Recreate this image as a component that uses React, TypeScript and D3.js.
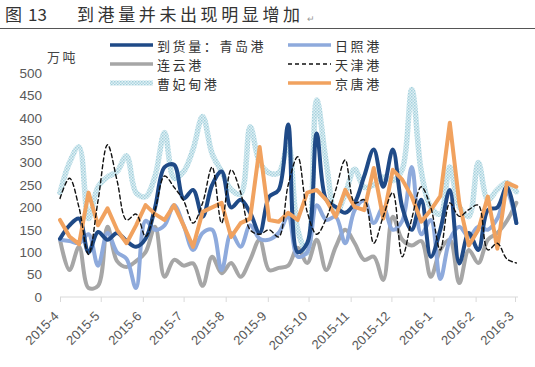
import { useEffect, useRef } from "react";
import * as d3 from "d3";

// weekly observations
const DATES = [
  "2015-04-01", "2015-04-08", "2015-04-15", "2015-04-22", "2015-04-29",
  "2015-05-06", "2015-05-13", "2015-05-20", "2015-05-27",
  "2015-06-03", "2015-06-10", "2015-06-17", "2015-06-24",
  "2015-07-01", "2015-07-08", "2015-07-15", "2015-07-22", "2015-07-29",
  "2015-08-05", "2015-08-12", "2015-08-19", "2015-08-26",
  "2015-09-02", "2015-09-09", "2015-09-16", "2015-09-23", "2015-09-30",
  "2015-10-07", "2015-10-14", "2015-10-21", "2015-10-28",
  "2015-11-04", "2015-11-11", "2015-11-18", "2015-11-25",
  "2015-12-02", "2015-12-09", "2015-12-16", "2015-12-23", "2015-12-30",
  "2016-01-06", "2016-01-13", "2016-01-20", "2016-01-27",
  "2016-02-03", "2016-02-10", "2016-02-17", "2016-02-24",
  "2016-03-02",
];

const MONTH_TICKS = [
  "2015-04-01", "2015-05-01", "2015-06-01", "2015-07-01", "2015-08-01", "2015-09-01",
  "2015-10-01", "2015-11-01", "2015-12-01", "2016-01-01", "2016-02-01", "2016-03-01",
];
const MONTH_LABELS = [
  "2015-4", "2015-5", "2015-6", "2015-7", "2015-8", "2015-9",
  "2015-10", "2015-11", "2015-12", "2016-1", "2016-2", "2016-3",
];
const Y_TICKS = [0, 50, 100, 150, 200, 250, 300, 350, 400, 450, 500];

const QINGDAO = [
  130, 160, 175, 100, 145, 128, 143, 125, 112, 130, 200, 290, 295, 220, 239, 179, 250,
  280, 200, 217, 188, 143, 224, 239, 385, 100, 120, 365, 217, 201, 188, 210, 270,
  329, 246, 329, 200, 150, 217, 90, 150, 239, 75, 143, 105, 194, 200, 246, 165,
];
const RIZHAO = [
  128, 125, 120, 140, 70, 143, 100, 85, 20, 170, 150, 160, 205, 160, 105, 143, 150,
  60, 143, 112, 160, 130, 128, 143, 179, 90, 100, 205, 172, 179, 120, 194, 215,
  165, 200, 150, 170, 290, 140, 172, 40, 128, 157, 134, 157, 150, 175, 235, 165,
];
const LIANYUN = [
  128, 60, 112, 20, 25, 157, 80, 67, 80, 100, 157, 45, 83, 70, 75, 25, 90,
  53, 76, 45, 83, 128, 60, 65, 70, 110, 76, 128, 60, 112, 150, 120, 83,
  90, 38, 179, 128, 115, 125, 45, 105, 128, 31, 105, 76, 128, 143, 170, 210,
];
const TIANJIN = [
  220, 265, 200, 95, 215, 340, 260, 172, 185, 135, 195, 270, 245, 215, 165, 210, 290,
  165, 284, 233, 150, 140, 150, 134, 250, 313, 190, 140, 175, 239, 306, 210, 217,
  120, 180, 233, 90, 175, 246, 200, 105, 210, 180, 195, 205, 105, 120, 85, 76,
];
const CAOFEIDIAN = [
  233, 300, 335, 175, 246, 268, 280, 315, 233, 224, 270, 367, 265, 280, 330, 403, 320,
  280, 240, 230, 380, 300, 277, 277, 340, 150, 98, 440, 300, 185, 230, 285, 245,
  250, 268, 260, 285, 463, 280, 200, 185, 290, 201, 180, 300, 217, 240, 255, 235,
];
const JINGTANG = [
  172, 135, 118, 233, 160, 198, 150, 120, 160, 205, 185, 172, 205, 160, 112, 190, 200,
  210, 134, 165, 175, 335, 172, 168, 188, 172, 233, 239, 217, 179, 239, 201, 194,
  288, 175, 284, 262, 224, 168, 194, 225, 389, 210, 115, 150, 224, 108, 255, 246,
];

type Series = {
  key: string;
  label: string;
  values: number[];
  stroke: string;
  width: number;
  dash?: string;
  smooth: boolean;
};

const SERIES: Series[] = [
  { key: "qd", label: "到货量：青岛港", values: QINGDAO, stroke: "#1f4a87", width: 4, smooth: true },
  { key: "rz", label: "日照港", values: RIZHAO, stroke: "#8eaadc", width: 4, smooth: true },
  { key: "ly", label: "连云港", values: LIANYUN, stroke: "#a6a6a6", width: 4, smooth: true },
  { key: "tj", label: "天津港", values: TIANJIN, stroke: "#111", width: 1.4, dash: "4,3", smooth: true },
  { key: "cfd", label: "曹妃甸港", values: CAOFEIDIAN, stroke: "url(#cfdPat)", width: 5.5, smooth: true },
  { key: "jt", label: "京唐港", values: JINGTANG, stroke: "#f1a25f", width: 4, smooth: false },
];

const DRAW_ORDER = ["cfd", "ly", "rz", "qd", "jt", "tj"];

const CJK = "'Noto Sans CJK SC', sans-serif";
const NUM = "'Liberation Sans', Arial, sans-serif";

export default function App() {
  const svgRef = useRef<SVGSVGElement>(null);

  useEffect(() => {
    if (!svgRef.current) return;
    const W = 535;
    const H = 367;
    const svg = d3.select(svgRef.current);
    svg.selectAll("*").remove();
    svg.attr("width", W).attr("height", H);

    const parse = d3.utcParse("%Y-%m-%d");
    const dates = DATES.map((d) => parse(d) as Date);
    const ticks = MONTH_TICKS.map((d) => parse(d) as Date);

    const x = d3.scaleUtc().domain([ticks[0], ticks[ticks.length - 1]]).range([60, 515]);
    const y = d3.scaleLinear().domain([0, 500]).range([297, 73]);

    // textured stroke for 曹妃甸
    const defs = svg.append("defs");
    const pat = defs.append("pattern").attr("id", "cfdPat")
      .attr("width", 3).attr("height", 3).attr("patternUnits", "userSpaceOnUse");
    pat.append("rect").attr("width", 3).attr("height", 3).attr("fill", "#e0f0f4");
    pat.append("rect").attr("width", 1.5).attr("height", 1.5).attr("fill", "#a3d0dc");
    pat.append("rect").attr("x", 1.5).attr("y", 1.5).attr("width", 1.5).attr("height", 1.5).attr("fill", "#b0d7e2");

    svg.append("rect").attr("width", W).attr("height", H).attr("fill", "#fff");

    // Title
    svg.append("text").attr("x", 5).attr("y", 21).attr("font-size", 17).attr("font-family", CJK)
      .attr("fill", "#333").text("图");
    svg.append("text").attr("x", 28).attr("y", 21).attr("font-size", 17).attr("font-family", CJK)
      .attr("fill", "#333").text("13");
    svg.append("text").attr("x", 77).attr("y", 21).attr("font-size", 17).attr("font-family", CJK)
      .attr("letter-spacing", 3.6).attr("fill", "#333").text("到港量并未出现明显增加");
    svg.append("text").attr("x", 307).attr("y", 22).attr("font-size", 9).attr("font-family", CJK)
      .attr("fill", "#999").text("↵");
    svg.append("line").attr("x1", 0).attr("x2", W).attr("y1", 28.5).attr("y2", 28.5)
      .attr("stroke", "#555").attr("stroke-width", 1.2);

    // Unit
    svg.append("text").attr("x", 47).attr("y", 62).attr("font-size", 13).attr("font-family", CJK)
      .attr("letter-spacing", 2.5).attr("fill", "#444").text("万吨");

    // Y axis labels
    const yAx = svg.append("g").attr("transform", "translate(60,0)")
      .call(d3.axisLeft(y).tickValues(Y_TICKS).tickSize(0).tickPadding(18));
    yAx.select(".domain").remove();
    yAx.selectAll("text").attr("font-size", 13.5).attr("font-family", NUM).attr("fill", "#595959");

    // X axis
    const xAx = svg.append("g").attr("transform", "translate(0,297)")
      .call(d3.axisBottom(x).tickValues(ticks).tickFormat((_, i) => MONTH_LABELS[i]).tickSize(5).tickSizeOuter(0));
    xAx.select(".domain").remove();
    xAx.append("line").attr("x1", 60).attr("x2", 518).attr("stroke", "#d9d9d9");
    xAx.selectAll(".tick line").attr("stroke", "#d9d9d9");
    xAx.selectAll("text")
      .attr("x", 0).attr("y", 0).attr("dy", 0)
      .attr("text-anchor", "end")
      .attr("transform", "translate(-1,20) rotate(-45)")
      .attr("font-size", 13).attr("font-family", NUM).attr("fill", "#595959");

    // Lines
    const byKey = new Map(SERIES.map((s) => [s.key, s]));
    DRAW_ORDER.forEach((k) => {
      const s = byKey.get(k)!;
      const line = d3.line<number>()
        .x((_, i) => x(dates[i]))
        .y((d) => y(d))
        .curve(s.smooth ? d3.curveCatmullRom.alpha(0.5) : d3.curveLinear);
      svg.append("path")
        .datum(s.values)
        .attr("fill", "none")
        .attr("stroke", s.stroke)
        .attr("stroke-width", s.width)
        .attr("stroke-linejoin", "round")
        .attr("stroke-linecap", "round")
        .attr("stroke-dasharray", s.dash ?? null)
        .attr("d", line);
    });

    // Legend (2 columns, row-wise)
    SERIES.forEach((s, i) => {
      const col = i % 2;
      const row = Math.floor(i / 2);
      const lx = col === 0 ? 110 : 288;
      const ly = 45 + row * 19;
      svg.append("line")
        .attr("x1", lx).attr("x2", lx + 43).attr("y1", ly).attr("y2", ly)
        .attr("stroke", s.stroke)
        .attr("stroke-width", s.key === "tj" ? 1.3 : s.key === "cfd" ? 5 : 3.6)
        .attr("stroke-dasharray", s.dash ?? null);
      svg.append("text")
        .attr("x", lx + 47).attr("y", ly + 5.5)
        .attr("font-size", 13).attr("font-family", CJK)
        .attr("letter-spacing", 2.6).attr("fill", "#333")
        .text(s.label);
    });
  }, []);

  return (
    <svg ref={svgRef} style={{ position: "absolute", left: 0, top: 0, display: "block", background: "#fff" }} />
  );
}
